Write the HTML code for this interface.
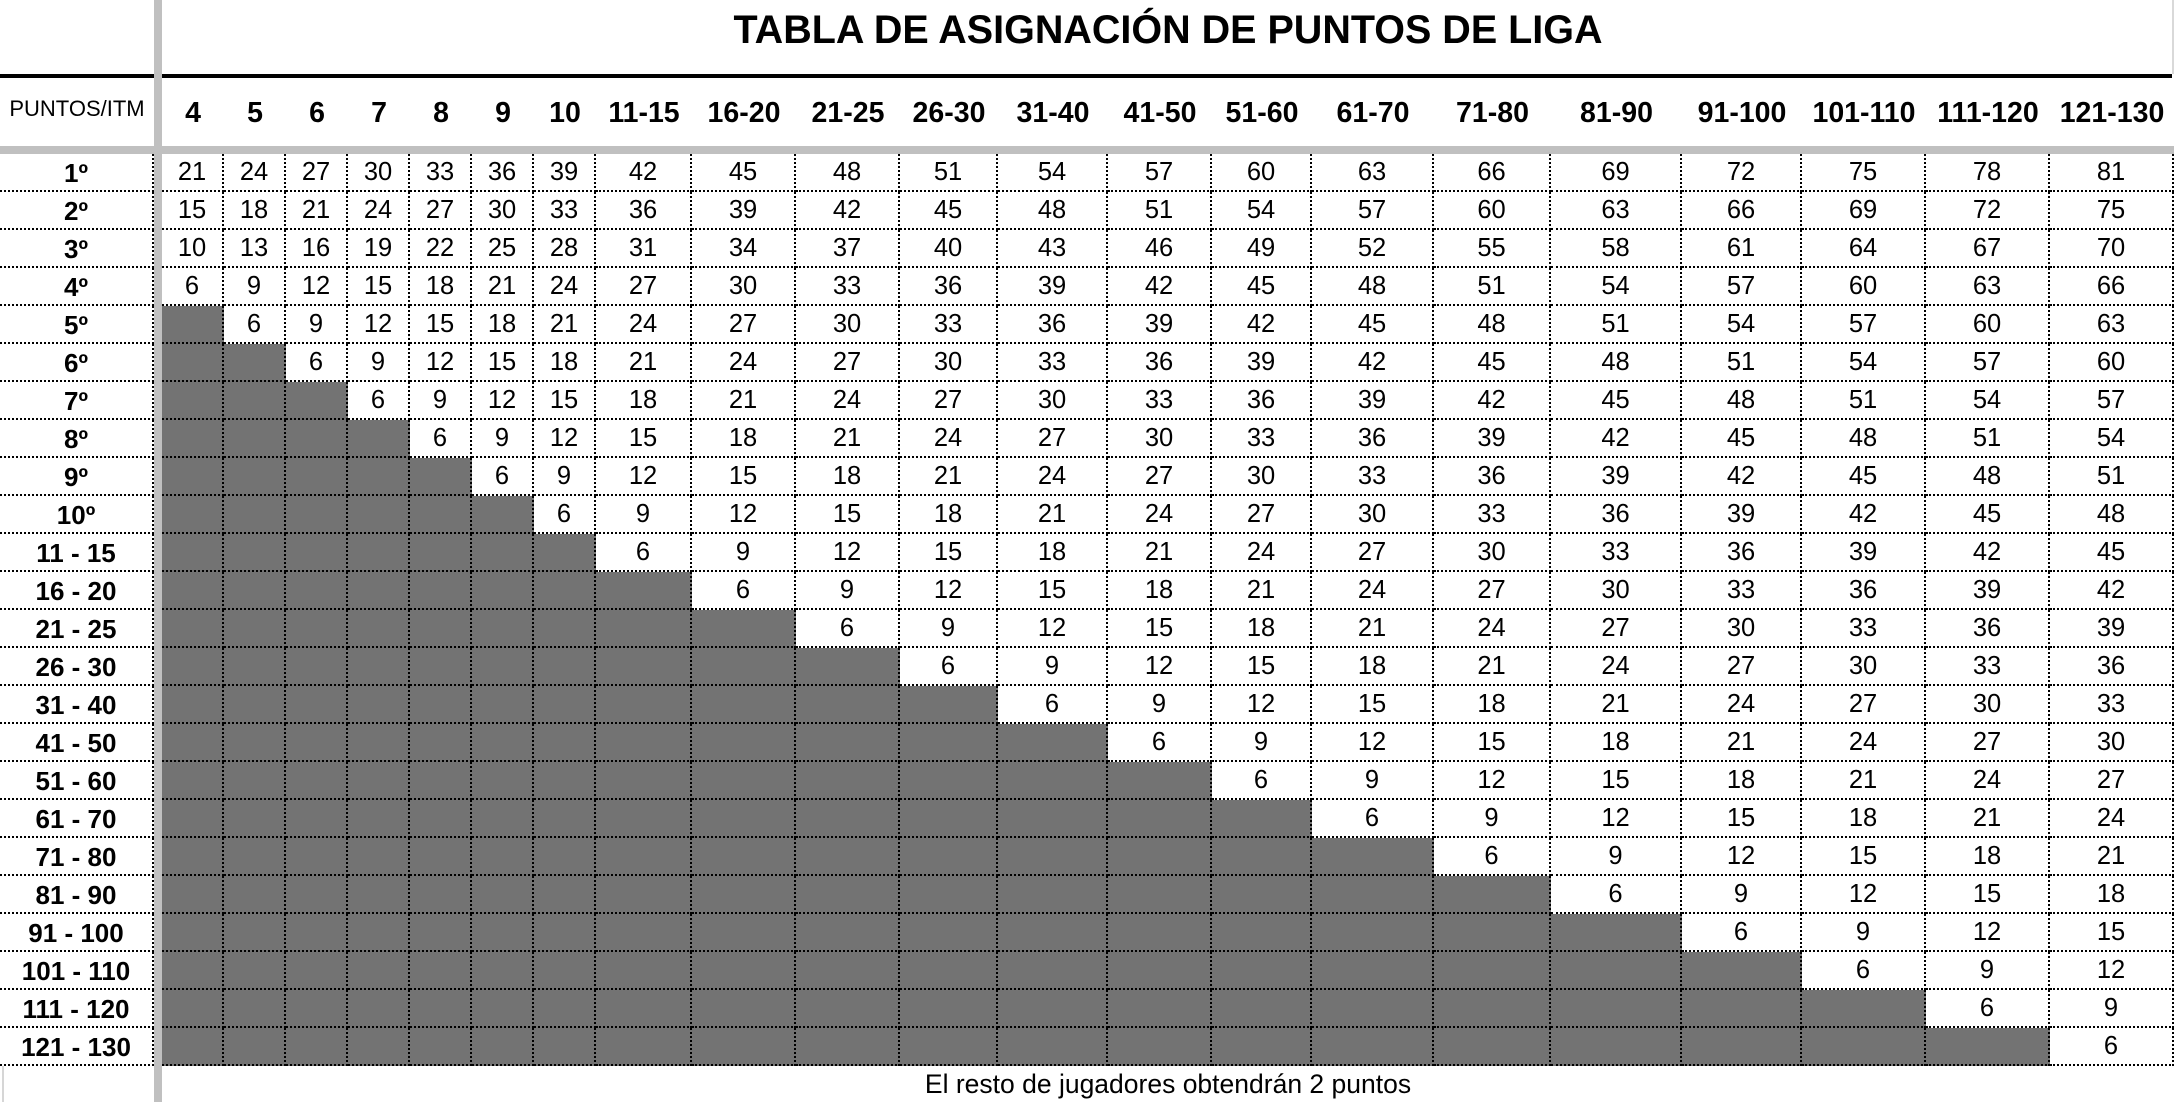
<!DOCTYPE html>
<html><head><meta charset="utf-8">
<style>
*{margin:0;padding:0;box-sizing:border-box}
html,body{width:2174px;height:1102px;background:#fff;overflow:hidden}
body{position:relative;font-family:"Liberation Sans",Arial,sans-serif;color:#000}
.abs{position:absolute}
#title{left:162px;top:11px;width:2012px;text-align:center;font-weight:bold;font-size:39.5px;line-height:39px;white-space:nowrap}
#blk{left:0;top:74px;width:2172px;height:4px;background:#000}
#hgray{left:0;top:146px;width:2174px;height:8px;background:#c0c0c0}
#vgray{left:154px;top:0;width:8px;height:1102px;background:#c0c0c0;z-index:5}
#rgt{left:2172px;top:0;width:2px;height:74px;background:#d9d9d9}
#pi{left:0;top:99px;width:154px;text-align:center;font-size:22px;line-height:20px;white-space:nowrap}
.cols{grid-template-columns:62px 62px 62px 62px 62px 62px 62px 96px 104px 104px 98px 110px 104px 100px 122px 117px 131px 120px 124px 124px 124px}
#hdr{position:absolute;left:162px;top:78px;display:grid;grid-template-rows:68px;font-weight:bold;font-size:28.5px}
#hdr>div{display:flex;align-items:center;justify-content:center;white-space:nowrap;line-height:28px;padding-top:1px}
#lab{position:absolute;left:0;top:154px;display:grid;grid-template-columns:154px;grid-auto-rows:38px;font-weight:bold;font-size:26px}
#lab>div{border-right:2px dotted #000;border-bottom:2px dotted #000;display:flex;align-items:center;justify-content:center;white-space:nowrap;line-height:26px;padding-top:1px}
#dat{position:absolute;left:162px;top:154px;display:grid;grid-auto-rows:38px;font-size:25.5px}
#dat>*{border-right:2px dotted #000;border-bottom:2px dotted #000;display:flex;align-items:center;justify-content:center;line-height:25px;padding-top:1px;font-style:normal;text-decoration:none}
#dat>i{background:#737373}
#foot{left:162px;top:1066px;width:2012px;height:36px;display:flex;align-items:center;justify-content:center;font-size:26.5px;line-height:27px;white-space:nowrap}
#fl{left:2px;top:1066px;width:2px;height:36px;background:#d6d6d6}
</style></head><body>

<div class="abs" id="title">TABLA DE ASIGNACIÓN DE PUNTOS DE LIGA</div>
<div class="abs" id="blk"></div>
<div class="abs" id="rgt"></div>
<div class="abs" id="pi">PUNTOS/ITM</div>

<div id="hdr" class="cols">
<div>4</div><div>5</div><div>6</div><div>7</div><div>8</div><div>9</div><div>10</div><div>11-15</div><div>16-20</div><div>21-25</div><div>26-30</div><div>31-40</div><div>41-50</div><div>51-60</div><div>61-70</div><div>71-80</div><div>81-90</div><div>91-100</div><div>101-110</div><div>111-120</div><div>121-130</div>
</div>

<div id="lab">
<div>1º</div><div>2º</div><div>3º</div><div>4º</div><div>5º</div><div>6º</div><div>7º</div><div>8º</div><div>9º</div><div>10º</div>
<div>11 - 15</div><div>16 - 20</div><div>21 - 25</div><div>26 - 30</div><div>31 - 40</div><div>41 - 50</div><div>51 - 60</div><div>61 - 70</div><div>71 - 80</div><div>81 - 90</div><div>91 - 100</div><div>101 - 110</div><div>111 - 120</div><div>121 - 130</div>
</div>

<div id="dat" class="cols">
<u>21</u><u>24</u><u>27</u><u>30</u><u>33</u><u>36</u><u>39</u><u>42</u><u>45</u><u>48</u><u>51</u><u>54</u><u>57</u><u>60</u><u>63</u><u>66</u><u>69</u><u>72</u><u>75</u><u>78</u><u>81</u>
<u>15</u><u>18</u><u>21</u><u>24</u><u>27</u><u>30</u><u>33</u><u>36</u><u>39</u><u>42</u><u>45</u><u>48</u><u>51</u><u>54</u><u>57</u><u>60</u><u>63</u><u>66</u><u>69</u><u>72</u><u>75</u>
<u>10</u><u>13</u><u>16</u><u>19</u><u>22</u><u>25</u><u>28</u><u>31</u><u>34</u><u>37</u><u>40</u><u>43</u><u>46</u><u>49</u><u>52</u><u>55</u><u>58</u><u>61</u><u>64</u><u>67</u><u>70</u>
<u>6</u><u>9</u><u>12</u><u>15</u><u>18</u><u>21</u><u>24</u><u>27</u><u>30</u><u>33</u><u>36</u><u>39</u><u>42</u><u>45</u><u>48</u><u>51</u><u>54</u><u>57</u><u>60</u><u>63</u><u>66</u>
<i></i><u>6</u><u>9</u><u>12</u><u>15</u><u>18</u><u>21</u><u>24</u><u>27</u><u>30</u><u>33</u><u>36</u><u>39</u><u>42</u><u>45</u><u>48</u><u>51</u><u>54</u><u>57</u><u>60</u><u>63</u>
<i></i><i></i><u>6</u><u>9</u><u>12</u><u>15</u><u>18</u><u>21</u><u>24</u><u>27</u><u>30</u><u>33</u><u>36</u><u>39</u><u>42</u><u>45</u><u>48</u><u>51</u><u>54</u><u>57</u><u>60</u>
<i></i><i></i><i></i><u>6</u><u>9</u><u>12</u><u>15</u><u>18</u><u>21</u><u>24</u><u>27</u><u>30</u><u>33</u><u>36</u><u>39</u><u>42</u><u>45</u><u>48</u><u>51</u><u>54</u><u>57</u>
<i></i><i></i><i></i><i></i><u>6</u><u>9</u><u>12</u><u>15</u><u>18</u><u>21</u><u>24</u><u>27</u><u>30</u><u>33</u><u>36</u><u>39</u><u>42</u><u>45</u><u>48</u><u>51</u><u>54</u>
<i></i><i></i><i></i><i></i><i></i><u>6</u><u>9</u><u>12</u><u>15</u><u>18</u><u>21</u><u>24</u><u>27</u><u>30</u><u>33</u><u>36</u><u>39</u><u>42</u><u>45</u><u>48</u><u>51</u>
<i></i><i></i><i></i><i></i><i></i><i></i><u>6</u><u>9</u><u>12</u><u>15</u><u>18</u><u>21</u><u>24</u><u>27</u><u>30</u><u>33</u><u>36</u><u>39</u><u>42</u><u>45</u><u>48</u>
<i></i><i></i><i></i><i></i><i></i><i></i><i></i><u>6</u><u>9</u><u>12</u><u>15</u><u>18</u><u>21</u><u>24</u><u>27</u><u>30</u><u>33</u><u>36</u><u>39</u><u>42</u><u>45</u>
<i></i><i></i><i></i><i></i><i></i><i></i><i></i><i></i><u>6</u><u>9</u><u>12</u><u>15</u><u>18</u><u>21</u><u>24</u><u>27</u><u>30</u><u>33</u><u>36</u><u>39</u><u>42</u>
<i></i><i></i><i></i><i></i><i></i><i></i><i></i><i></i><i></i><u>6</u><u>9</u><u>12</u><u>15</u><u>18</u><u>21</u><u>24</u><u>27</u><u>30</u><u>33</u><u>36</u><u>39</u>
<i></i><i></i><i></i><i></i><i></i><i></i><i></i><i></i><i></i><i></i><u>6</u><u>9</u><u>12</u><u>15</u><u>18</u><u>21</u><u>24</u><u>27</u><u>30</u><u>33</u><u>36</u>
<i></i><i></i><i></i><i></i><i></i><i></i><i></i><i></i><i></i><i></i><i></i><u>6</u><u>9</u><u>12</u><u>15</u><u>18</u><u>21</u><u>24</u><u>27</u><u>30</u><u>33</u>
<i></i><i></i><i></i><i></i><i></i><i></i><i></i><i></i><i></i><i></i><i></i><i></i><u>6</u><u>9</u><u>12</u><u>15</u><u>18</u><u>21</u><u>24</u><u>27</u><u>30</u>
<i></i><i></i><i></i><i></i><i></i><i></i><i></i><i></i><i></i><i></i><i></i><i></i><i></i><u>6</u><u>9</u><u>12</u><u>15</u><u>18</u><u>21</u><u>24</u><u>27</u>
<i></i><i></i><i></i><i></i><i></i><i></i><i></i><i></i><i></i><i></i><i></i><i></i><i></i><i></i><u>6</u><u>9</u><u>12</u><u>15</u><u>18</u><u>21</u><u>24</u>
<i></i><i></i><i></i><i></i><i></i><i></i><i></i><i></i><i></i><i></i><i></i><i></i><i></i><i></i><i></i><u>6</u><u>9</u><u>12</u><u>15</u><u>18</u><u>21</u>
<i></i><i></i><i></i><i></i><i></i><i></i><i></i><i></i><i></i><i></i><i></i><i></i><i></i><i></i><i></i><i></i><u>6</u><u>9</u><u>12</u><u>15</u><u>18</u>
<i></i><i></i><i></i><i></i><i></i><i></i><i></i><i></i><i></i><i></i><i></i><i></i><i></i><i></i><i></i><i></i><i></i><u>6</u><u>9</u><u>12</u><u>15</u>
<i></i><i></i><i></i><i></i><i></i><i></i><i></i><i></i><i></i><i></i><i></i><i></i><i></i><i></i><i></i><i></i><i></i><i></i><u>6</u><u>9</u><u>12</u>
<i></i><i></i><i></i><i></i><i></i><i></i><i></i><i></i><i></i><i></i><i></i><i></i><i></i><i></i><i></i><i></i><i></i><i></i><i></i><u>6</u><u>9</u>
<i></i><i></i><i></i><i></i><i></i><i></i><i></i><i></i><i></i><i></i><i></i><i></i><i></i><i></i><i></i><i></i><i></i><i></i><i></i><i></i><u>6</u>
</div>

<div class="abs" id="hgray"></div>
<div class="abs" id="vgray"></div>
<div class="abs" id="fl"></div>
<div class="abs" id="foot">El resto de jugadores obtendrán 2 puntos</div>
</body></html>
